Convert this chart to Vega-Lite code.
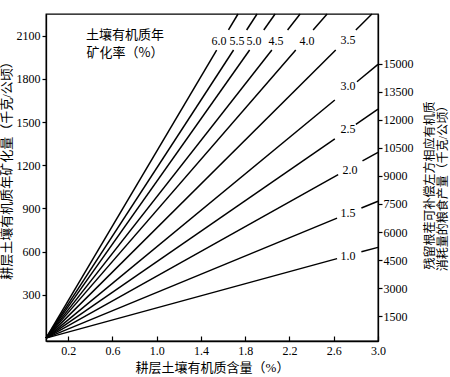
{
  "$schema": "https://vega.github.io/schema/vega-lite/v6.json",
  "width": 332,
  "height": 327,
  "autosize": "none",
  "padding": {"left": 46, "top": 14, "right": 72, "bottom": 36},
  "background": "white",
  "config": {
    "font": "Liberation Serif, Noto Sans CJK SC",
    "view": {"stroke": "black", "strokeWidth": 1.3},
    "axis": {
      "grid": false,
      "domainColor": "black",
      "domainWidth": 1.3,
      "tickColor": "black",
      "tickWidth": 1.2,
      "labelColor": "black",
      "labelFontSize": 12,
      "labelFont": "Liberation Serif",
      "titleColor": "black",
      "titleFontSize": 13,
      "titleFontWeight": "normal",
      "titleFont": "Liberation Serif, Noto Sans CJK SC"
    }
  },
  "datasets": {
    "lines": [
      {"rate": "1.0", "id": "1.0a", "x": 0, "y": 0}, {"rate": "1.0", "id": "1.0a", "x": 2.63, "y": 552},
      {"rate": "1.0", "id": "1.0b", "x": 2.85, "y": 599}, {"rate": "1.0", "id": "1.0b", "x": 3.0, "y": 630},
      {"rate": "1.5", "id": "1.5a", "x": 0, "y": 0}, {"rate": "1.5", "id": "1.5a", "x": 2.63, "y": 833},
      {"rate": "1.5", "id": "1.5b", "x": 2.85, "y": 903}, {"rate": "1.5", "id": "1.5b", "x": 3.0, "y": 950},
      {"rate": "2.0", "id": "2.0a", "x": 0, "y": 0}, {"rate": "2.0", "id": "2.0a", "x": 2.64, "y": 1135},
      {"rate": "2.0", "id": "2.0b", "x": 2.86, "y": 1230}, {"rate": "2.0", "id": "2.0b", "x": 3.0, "y": 1290},
      {"rate": "2.5", "id": "2.5a", "x": 0, "y": 0}, {"rate": "2.5", "id": "2.5a", "x": 2.61, "y": 1383},
      {"rate": "2.5", "id": "2.5b", "x": 2.80, "y": 1484}, {"rate": "2.5", "id": "2.5b", "x": 3.0, "y": 1590},
      {"rate": "3.0", "id": "3.0a", "x": 0, "y": 0}, {"rate": "3.0", "id": "3.0a", "x": 2.61, "y": 1653},
      {"rate": "3.0", "id": "3.0b", "x": 2.81, "y": 1780}, {"rate": "3.0", "id": "3.0b", "x": 3.0, "y": 1900},
      {"rate": "3.5", "id": "3.5a", "x": 0, "y": 0}, {"rate": "3.5", "id": "3.5a", "x": 2.618, "y": 2000},
      {"rate": "3.5", "id": "3.5b", "x": 2.80, "y": 2139}, {"rate": "3.5", "id": "3.5b", "x": 2.945, "y": 2250},
      {"rate": "4.0", "id": "4.0a", "x": 0, "y": 0}, {"rate": "4.0", "id": "4.0a", "x": 2.257, "y": 2000},
      {"rate": "4.0", "id": "4.0b", "x": 2.414, "y": 2139}, {"rate": "4.0", "id": "4.0b", "x": 2.54, "y": 2250},
      {"rate": "4.5", "id": "4.5a", "x": 0, "y": 0}, {"rate": "4.5", "id": "4.5a", "x": 2.041, "y": 2000},
      {"rate": "4.5", "id": "4.5b", "x": 2.183, "y": 2139}, {"rate": "4.5", "id": "4.5b", "x": 2.296, "y": 2250},
      {"rate": "5.0", "id": "5.0a", "x": 0, "y": 0}, {"rate": "5.0", "id": "5.0a", "x": 1.840, "y": 2000},
      {"rate": "5.0", "id": "5.0b", "x": 1.968, "y": 2139}, {"rate": "5.0", "id": "5.0b", "x": 2.07, "y": 2250},
      {"rate": "5.5", "id": "5.5a", "x": 0, "y": 0}, {"rate": "5.5", "id": "5.5a", "x": 1.695, "y": 2000},
      {"rate": "5.5", "id": "5.5b", "x": 1.813, "y": 2139}, {"rate": "5.5", "id": "5.5b", "x": 1.907, "y": 2250},
      {"rate": "6.0", "id": "6.0a", "x": 0, "y": 0}, {"rate": "6.0", "id": "6.0a", "x": 1.542, "y": 2000},
      {"rate": "6.0", "id": "6.0b", "x": 1.649, "y": 2139}, {"rate": "6.0", "id": "6.0b", "x": 1.735, "y": 2250}
    ],
    "labels": [
      {"t": "6.0", "x": 1.563, "y": 2063},
      {"t": "5.5", "x": 1.725, "y": 2063},
      {"t": "5.0", "x": 1.879, "y": 2063},
      {"t": "4.5", "x": 2.078, "y": 2063},
      {"t": "4.0", "x": 2.358, "y": 2063},
      {"t": "3.5", "x": 2.728, "y": 2070},
      {"t": "3.0", "x": 2.728, "y": 1750},
      {"t": "2.5", "x": 2.728, "y": 1452},
      {"t": "2.0", "x": 2.746, "y": 1167},
      {"t": "1.5", "x": 2.728, "y": 869},
      {"t": "1.0", "x": 2.728, "y": 570}
    ],
    "note": [
      {"t": "土壤有机质年", "x": 0.714, "y": 2104},
      {"t": "矿化率（%）", "x": 0.714, "y": 1979}
    ],
    "right": [
      {"g": 161},
      {"g": 17678}
    ]
  },
  "layer": [
    {
      "data": {"name": "lines"},
      "mark": {"type": "line", "color": "black", "strokeWidth": 1.5},
      "encoding": {
        "x": {
          "field": "x", "type": "quantitative",
          "scale": {"domain": [0, 3.0], "nice": false, "zero": false},
          "axis": {
            "values": [0.2, 0.4, 0.6, 0.8, 1.0, 1.2, 1.4, 1.6, 1.8, 2.0, 2.2, 2.4, 2.6, 2.8, 3.0],
            "labelExpr": "indexof(['0.2','0.6','1.0','1.4','1.8','2.2','2.6','3.0'], format(datum.value,'.1f')) >= 0 ? format(datum.value,'.1f') : ''",
            "tickSize": -5,
            "labelPadding": 9,
            "labelFont": "Liberation Serif",
            "labelFlush": false,
            "labelOverlap": false,
            "title": "耕层土壤有机质含量（%）",
            "titlePadding": 5
          }
        },
        "y": {
          "field": "y", "type": "quantitative",
          "scale": {"domain": [-20, 2250], "nice": false, "zero": false},
          "axis": {
            "values": [300, 600, 900, 1200, 1500, 1800, 2100],
            "format": "d",
            "labelFont": "Liberation Serif",
            "tickSize": 4,
            "labelPadding": 2,
            "title": "耕层土壤有机质年矿化量（千克/公顷）",
            "titlePadding": 3,
            "titleY": 153
          }
        },
        "detail": {"field": "id"}
      }
    },
    {
      "data": {"name": "labels"},
      "mark": {"type": "text", "fontSize": 12, "font": "Liberation Serif", "color": "black", "align": "center", "baseline": "middle"},
      "encoding": {
        "x": {"field": "x", "type": "quantitative", "scale": {"domain": [0, 3.0], "nice": false, "zero": false}},
        "y": {"field": "y", "type": "quantitative", "scale": {"domain": [-20, 2250], "nice": false, "zero": false}, "axis": null},
        "text": {"field": "t"}
      }
    },
    {
      "data": {"name": "note"},
      "mark": {"type": "text", "fontSize": 13, "font": "Noto Sans CJK SC", "color": "black", "align": "center", "baseline": "middle"},
      "encoding": {
        "x": {"field": "x", "type": "quantitative", "scale": {"domain": [0, 3.0], "nice": false, "zero": false}},
        "y": {"field": "y", "type": "quantitative", "scale": {"domain": [-20, 2250], "nice": false, "zero": false}, "axis": null},
        "text": {"field": "t"}
      }
    },
    {
      "data": {"name": "right"},
      "mark": {"type": "point", "opacity": 0},
      "encoding": {
        "y": {
          "field": "g", "type": "quantitative",
          "scale": {"domain": [161, 17678], "nice": false, "zero": false},
          "axis": {
            "orient": "right",
            "values": [1500, 3000, 4500, 6000, 7500, 9000, 10500, 12000, 13500, 15000],
            "format": "d",
            "labelFont": "Liberation Serif",
            "tickSize": 4,
            "labelPadding": 1,
            "title": ["残留根茬可补偿左方相应有机质", "消耗量的粮食产量（千克/公顷）"],
            "titleAngle": 270,
            "titleFontSize": 12,
            "titlePadding": 10,
            "titleLineHeight": 13,
            "titleY": 171
          }
        }
      }
    }
  ],
  "resolve": {"scale": {"y": "independent"}, "axis": {"y": "independent"}}
}
